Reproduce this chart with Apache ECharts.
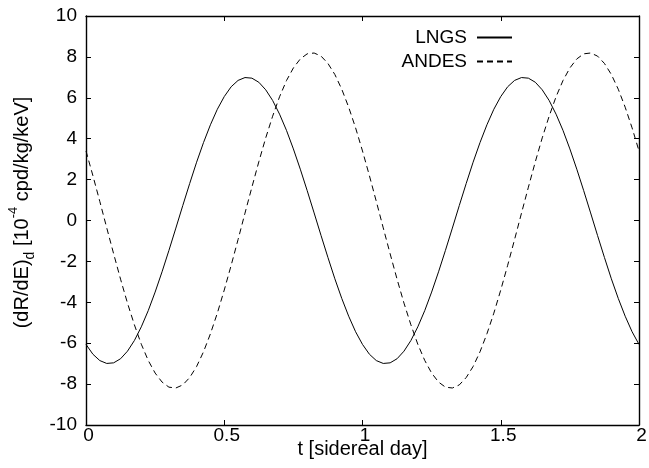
<!DOCTYPE html>
<html>
<head>
<meta charset="utf-8">
<script src="https://cdn.jsdelivr.net/npm/echarts@6/dist/echarts.min.js"></script>
<style>
  html, body { margin: 0; padding: 0; background: #fff; }
  #chart { width: 649px; height: 468px; }
</style>
</head>
<body>
<div id="chart"></div>
<script>
// t in sidereal days, sampled every 0.025
const tValues = [
  0, 0.025, 0.05, 0.075, 0.1, 0.125, 0.15, 0.175, 0.2, 0.225,
  0.25, 0.275, 0.3, 0.325, 0.35, 0.375, 0.4, 0.425, 0.45, 0.475,
  0.5, 0.525, 0.55, 0.575, 0.6, 0.625, 0.65, 0.675, 0.7, 0.725,
  0.75, 0.775, 0.8, 0.825, 0.85, 0.875, 0.9, 0.925, 0.95, 0.975,
  1, 1.025, 1.05, 1.075, 1.1, 1.125, 1.15, 1.175, 1.2, 1.225,
  1.25, 1.275, 1.3, 1.325, 1.35, 1.375, 1.4, 1.425, 1.45, 1.475,
  1.5, 1.525, 1.55, 1.575, 1.6, 1.625, 1.65, 1.675, 1.7, 1.725,
  1.75, 1.775, 1.8, 1.825, 1.85, 1.875, 1.9, 1.925, 1.95, 1.975, 2
];
const lngs = [
  -6.06, -6.54, -6.85, -6.99, -6.96, -6.76, -6.39, -5.87, -5.2, -4.41,
  -3.5, -2.51, -1.46, -0.37, 0.73, 1.81, 2.85, 3.81, 4.68, 5.44,
  6.06, 6.54, 6.85, 6.99, 6.96, 6.76, 6.39, 5.87, 5.2, 4.41,
  3.5, 2.51, 1.46, 0.37, -0.73, -1.81, -2.85, -3.81, -4.68, -5.44,
  -6.06, -6.54, -6.85, -6.99, -6.96, -6.76, -6.39, -5.87, -5.2, -4.41,
  -3.5, -2.51, -1.46, -0.37, 0.73, 1.81, 2.85, 3.81, 4.68, 5.44,
  6.06, 6.54, 6.85, 6.99, 6.96, 6.76, 6.39, 5.87, 5.2, 4.41,
  3.5, 2.51, 1.46, 0.37, -0.73, -1.81, -2.85, -3.81, -4.68, -5.44, -6.06
];
const andes = [
  3.4, 2.19, 0.93, -0.36, -1.63, -2.87, -4.04, -5.1, -6.05, -6.84,
  -7.46, -7.9, -8.15, -8.19, -8.04, -7.68, -7.14, -6.42, -5.54, -4.53,
  -3.4, -2.19, -0.93, 0.36, 1.63, 2.87, 4.04, 5.1, 6.05, 6.84,
  7.46, 7.9, 8.15, 8.19, 8.04, 7.68, 7.14, 6.42, 5.54, 4.53,
  3.4, 2.19, 0.93, -0.36, -1.63, -2.87, -4.04, -5.1, -6.05, -6.84,
  -7.46, -7.9, -8.15, -8.19, -8.04, -7.68, -7.14, -6.42, -5.54, -4.53,
  -3.4, -2.19, -0.93, 0.36, 1.63, 2.87, 4.04, 5.1, 6.05, 6.84,
  7.46, 7.9, 8.15, 8.19, 8.04, 7.68, 7.14, 6.42, 5.54, 4.53, 3.4
];
const xTickLabels = { 0: "0", 0.5: "0.5", 1: "1", 1.5: "1.5", 2: "2" };

const font = "Liberation Sans, Arial, sans-serif";
const pairs = (ys) => tValues.map((t, i) => [t, ys[i]]);

const axisLine = { show: true, onZero: false, lineStyle: { color: "#000", width: 1.4 } };
const tick = { show: true, inside: true, length: 5, lineStyle: { color: "#000", width: 1 } };

const chart = echarts.init(document.getElementById("chart"));
chart.setOption({
  animation: false,
  grid: { left: 86, right: 10, top: 16, bottom: 43, containLabel: false, outerBoundsMode: "none" },
  legend: {
    orient: "vertical",
    right: 131,
    top: 23,
    align: "right",
    itemWidth: 35,
    itemHeight: 12,
    itemGap: 5,
    itemStyle: { color: "rgba(0,0,0,0)", borderWidth: 0, opacity: 0 },
    textStyle: { fontFamily: font, fontSize: 19, color: "#000", padding: [0, 5, 0, 0] },
    data: ["LNGS", "ANDES"]
  },
  xAxis: [
    {
      type: "value", min: 0, max: 2, interval: 0.5,
      name: "t [sidereal day]", nameLocation: "middle", nameGap: 14,
      nameMoveOverlap: false,
      nameTextStyle: { fontFamily: font, fontSize: 20, color: "#000", verticalAlign: "top" },
      axisLine, axisTick: tick, splitLine: { show: false },
      axisLabel: {
        fontFamily: font, fontSize: 19, color: "#000", margin: 1,
        padding: [0, 0, 0, 5],
        formatter: (v) => xTickLabels[v] ?? ""
      }
    },
    {
      type: "value", min: 0, max: 2, interval: 0.5, position: "top",
      axisLine, axisTick: tick, splitLine: { show: false },
      axisLabel: { show: false }
    }
  ],
  yAxis: [
    {
      type: "value", min: -10, max: 10, interval: 2,
      name: "(dR/dE){sub|d} [10{sup|-4} cpd/kg/keV]",
      nameLocation: "middle", nameRotate: 90, nameGap: 54,
      nameMoveOverlap: false,
      nameTextStyle: {
        fontFamily: font, fontSize: 20, color: "#000", padding: [0, 0, 0, 16],
        rich: {
          sub: { fontFamily: font, fontSize: 14, color: "#000", verticalAlign: "bottom", padding: [0, 0, -5, 0] },
          sup: { fontFamily: font, fontSize: 13, color: "#000", verticalAlign: "top", padding: [-5, 0, 0, 0] }
        }
      },
      axisLine, axisTick: tick, splitLine: { show: false },
      axisLabel: { fontFamily: font, fontSize: 19, color: "#000", margin: 9 }
    },
    {
      type: "value", min: -10, max: 10, interval: 2, position: "right",
      axisLine, axisTick: tick, splitLine: { show: false },
      axisLabel: { show: false }
    }
  ],
  series: [
    {
      name: "LNGS", type: "line", symbol: "none",
      lineStyle: { color: "#000", width: 1 },
      itemStyle: { color: "#000" },
      data: pairs(lngs)
    },
    {
      name: "ANDES", type: "line", symbol: "none",
      lineStyle: { color: "#000", width: 1, type: [6, 4] },
      itemStyle: { color: "#000" },
      data: pairs(andes)
    }
  ]
});
</script>
</body>
</html>
